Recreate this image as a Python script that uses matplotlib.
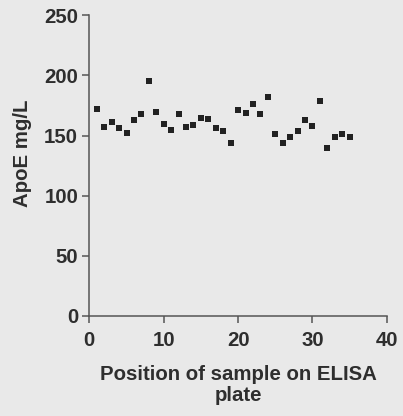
import numpy as np
import matplotlib
matplotlib.use("Agg")
import matplotlib.pyplot as plt

# ApoE concentration for each sample position on the ELISA plate
position = np.arange(1, 36)
apoe = [172, 157, 161, 156, 152, 163, 168, 195, 170, 160,
        155, 168, 157, 159, 165, 164, 156, 154, 144, 171,
        169, 176, 168, 182, 151, 144, 149, 154, 163, 158,
        179, 140, 149, 151, 149]

x_ticks = [0, 10, 20, 30, 40]
y_ticks = [0, 50, 100, 150, 200, 250]

bg = "#e9e9e9"
ink = "#2e2e2e"
axis_col = "#555555"

plt.rcParams['font.family'] = ['Liberation Sans', 'DejaVu Sans']
plt.rcParams['font.weight'] = 'bold'

fig = plt.figure(figsize=(4.03, 4.16), dpi=100, facecolor=bg)
ax = fig.add_axes([0.2216, 0.241, 0.7384, 0.722], facecolor=bg)

ax.plot(position, apoe, linestyle="none", marker="s", markersize=4.5,
        color="#222222", markeredgewidth=0)

ax.set_xlim(0, 40)
ax.set_ylim(0, 250)
ax.set_xticks(x_ticks)
ax.set_yticks(y_ticks)

for side in ("top", "right"):
    ax.spines[side].set_visible(False)
for side in ("left", "bottom"):
    ax.spines[side].set_color(axis_col)
    ax.spines[side].set_linewidth(1.1)

ax.tick_params(axis="both", direction="out", length=5, width=1.1,
               color=axis_col, labelsize=14.7, labelcolor=ink, pad=3)
ax.tick_params(axis="x", pad=6)

ax.set_xlabel("Position of sample on ELISA\nplate", fontsize=14.7,
              color=ink, fontweight="bold", linespacing=1.1)
ax.xaxis.set_label_coords(0.5, -0.165, transform=ax.transAxes)
ax.xaxis.label.set_verticalalignment("top")
ax.set_ylabel("ApoE mg/L", fontsize=14.7, color=ink, fontweight="bold")
ax.yaxis.set_label_coords(-0.223, 0.542)
ax.yaxis.label.set_verticalalignment("center")

fig.savefig("out.png", dpi=100, facecolor=bg)
